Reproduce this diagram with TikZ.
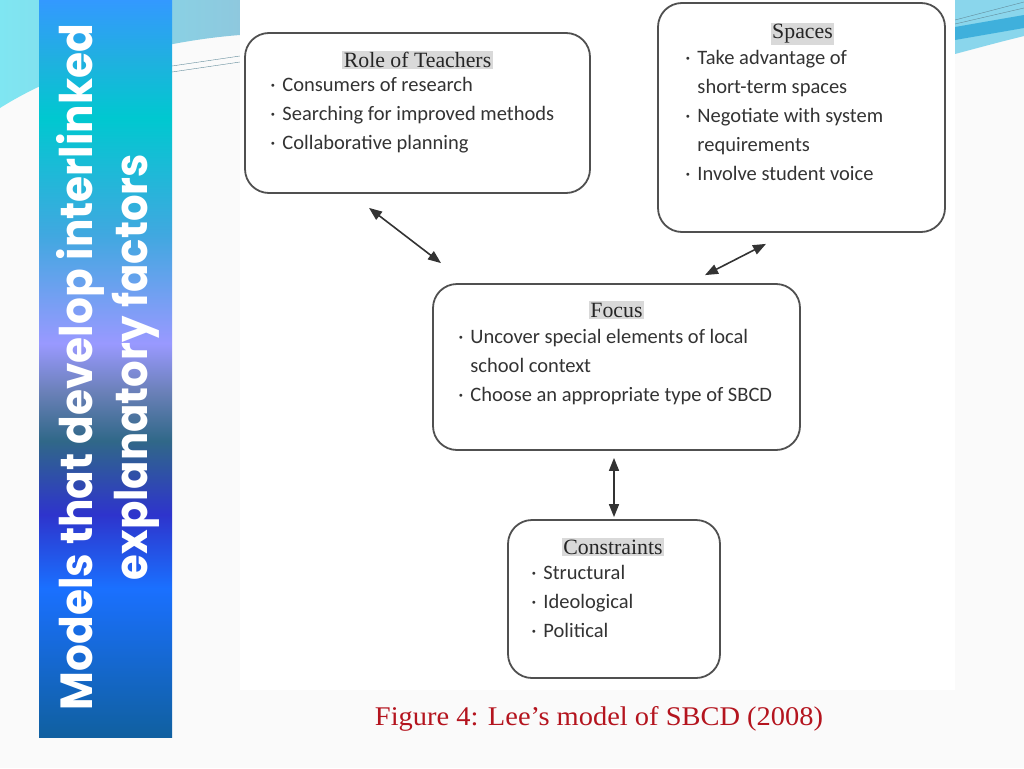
\documentclass[tikz,border=0pt]{standalone}
\usepackage{fontspec}
\usepackage{graphicx}
\setmainfont{Liberation Serif}
\newfontfamily\calib{Carlito}
\newfontfamily\gothic{Poppins}
\usetikzlibrary{positioning, arrows.meta, calc}

\definecolor{boxline}{HTML}{505050}
\definecolor{headgray}{HTML}{D9D9D9}
\definecolor{captionred}{HTML}{B4141E}
\definecolor{swooshA}{HTML}{7FE6F2}
\definecolor{swooshB}{HTML}{8EC8DE}
\definecolor{swooshC}{HTML}{3FB0DC}
\definecolor{swooshD}{HTML}{8AD6EC}

% side bar colours, bottom to top
\definecolor{barA}{HTML}{1060A0}
\definecolor{barB}{HTML}{1A70FF}
\definecolor{barC}{HTML}{2E34CC}
\definecolor{barD}{HTML}{306888}
\definecolor{barE}{HTML}{6A80B8}
\definecolor{barF}{HTML}{9999FF}
\definecolor{barG}{HTML}{40A8E0}
\definecolor{barH}{HTML}{00C8D0}
\definecolor{barI}{HTML}{20B0E0}
\definecolor{barJ}{HTML}{3399FF}
\pgfdeclareverticalshading{barshade}{100bp}{color(0bp)=(barA); color(25bp)=(barA);
  color(35.1bp)=(barB); color(40.1bp)=(barC); color(45.1bp)=(barD);
  color(48.4bp)=(barE); color(51.7bp)=(barF); color(59.1bp)=(barG);
  color(67bp)=(barH); color(71bp)=(barI); color(75bp)=(barJ); color(100bp)=(barJ)}

\begin{document}
\begin{tikzpicture}[x=1pt, y=-1pt,
	box/.style={draw=boxline, line width=1.8pt, rounded corners=24pt, fill=white, inner sep=0pt},
	head/.style={fill=headgray, inner sep=1.5pt, text=black!85, font=\fontsize{21.8}{26}\selectfont},
	items/.style={anchor=base west, inner sep=0pt, text=black!80, font=\calib\fontsize{20.5}{29}\selectfont},
	link/.style={<->, >={Triangle[length=13pt,width=10pt]}, line width=1.6pt, draw=black!80}]
	
	\useasboundingbox (0,0) rectangle (1024,768);
	
	% Slide background
	\fill[white!98!black] (0,0) rectangle (1024,768);
	\shade[left color=swooshA, right color=swooshB] (0,0) -- (240,0) -- (240,35)
		.. controls (150,42) and (60,70) .. (0,108) -- cycle;
	\draw[swooshB!70!black, thin] (172,66) -- (240,56);
	\draw[swooshB!70!black, thin] (172,72) -- (240,62);
	\fill[swooshD] (955,0) -- (1024,0) -- (1024,36) .. controls (1000,42) .. (955,54) -- cycle;
	\fill[swooshC] (955,27) -- (1024,15) -- (1024,28) -- (955,40) -- cycle;
	\draw[swooshB!70!black, thin] (955,20) -- (1024,2);
	\draw[swooshB!70!black, thin] (955,24) -- (1024,8);
	\fill[white] (240,0) rectangle (955,690);
	
	% Side bar
	\shade[shading=barshade] (39,0) rectangle (172,737);
	\node[rotate=90, anchor=base, inner sep=0pt, text=white,
		font=\gothic\bfseries\fontsize{45}{45}\selectfont] (heading1) at (92,367)
		{\resizebox{686pt}{\height}{Models that develop interlinked}};
	\node[rotate=90, anchor=base, inner sep=0pt, text=white,
		font=\gothic\bfseries\fontsize{45}{45}\selectfont] (heading2) at (147,367)
		{\resizebox{426pt}{\height}{explanatory factors}};
	
	% Boxes
	\node[box, minimum width=345pt, minimum height=160pt] (teachers) at (417.5,113) {};
	\node[box, minimum width=287pt, minimum height=229pt] (spaces) at (801.5,117.5) {};
	\node[box, minimum width=367pt, minimum height=166pt] (focus) at (616.5,367) {};
	\node[box, minimum width=212pt, minimum height=158pt] (constraints) at (614,599) {};
	
	% Titles
	\node[head] (teachers-head) at ($(teachers.north)+(0,28)$) {Role of Teachers};
	\node[head] (spaces-head) at ($(spaces.north)+(1,32)$) {Spaces};
	\node[head] (focus-head) at ($(focus.north)+(0,27)$) {Focus};
	\node[head] (constraints-head) at ($(constraints.north)+(-1,28)$) {Constraints};
	
	% Bullet lists
	\node[items] (teachers-list) at ($(teachers.north west)+(26,59)$)
		{\begin{tabular}[t]{@{}l@{\hspace{7pt}}l@{}}
			· & Consumers of research\\
			· & Searching for improved methods\\
			· & Collaborative planning
		\end{tabular}};
	\node[items] (spaces-list) at ($(spaces.north west)+(28,62)$)
		{\begin{tabular}[t]{@{}l@{\hspace{7pt}}l@{}}
			· & Take advantage of\\
			  & short-term spaces\\
			· & Negotiate with system\\
			  & requirements\\
			· & Involve student voice
		\end{tabular}};
	\node[items] (focus-list) at ($(focus.north west)+(26,60)$)
		{\begin{tabular}[t]{@{}l@{\hspace{7pt}}l@{}}
			· & Uncover special elements of local\\
			  & school context\\
			· & Choose an appropriate type of SBCD
		\end{tabular}};
	\node[items] (constraints-list) at ($(constraints.north west)+(24,60)$)
		{\begin{tabular}[t]{@{}l@{\hspace{7pt}}l@{}}
			· & Structural\\
			· & Ideological\\
			· & Political
		\end{tabular}};
	
	% Connections
	\coordinate (teachers-end) at ($(teachers.south)+(-48.5,14)$);
	\coordinate (focus-left) at ($(focus.north)+(-175.5,-20)$);
	\coordinate (spaces-end) at ($(spaces.south)+(-35.5,11)$);
	\coordinate (focus-right) at ($(focus.north)+(88.5,-8)$);
	\coordinate (focus-end) at ($(focus.south)+(-2.5,7)$);
	\coordinate (constraints-end) at ($(constraints.north)+(0,-2)$);
	\draw[link] (teachers-end) -- (focus-left);
	\draw[link] (spaces-end) -- (focus-right);
	\draw[link] (focus-end) -- (constraints-end);
	
	% Caption
	\node[text=captionred, font=\fontsize{27}{30}\selectfont] (caption) at (599,719)
		{\resizebox{448pt}{\height}{Figure 4: Lee’s model of SBCD (2008)}};
\end{tikzpicture}
\end{document}
